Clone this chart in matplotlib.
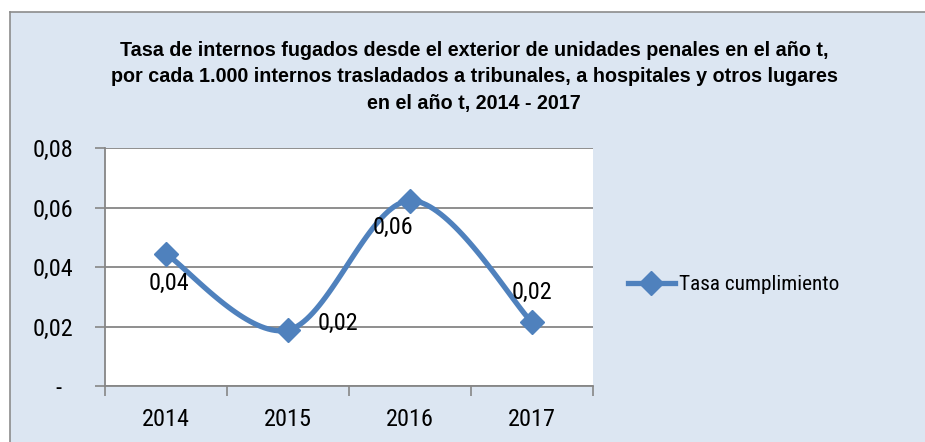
import numpy as np
import matplotlib.pyplot as plt
from matplotlib.ticker import FuncFormatter
from matplotlib.lines import Line2D

# data
years = ['2014', '2015', '2016', '2017']
tasa = [0.0444, 0.0188, 0.0623, 0.0214]
label_txt = ['0,04', '0,02', '0,06', '0,02']
yticks = [0, 0.02, 0.04, 0.06, 0.08]

bg = '#dce6f2'
blue = '#4f81bd'
grid_c = '#868686'

plt.rcParams['font.family'] = ['Roboto Condensed', 'Liberation Sans', 'DejaVu Sans']
FS = 17.5


def smooth(x, y, n=40):
    # catmull-rom like excel's smoothed line
    x = np.asarray(x, float)
    y = np.asarray(y, float)
    px = np.concatenate([[x[0]], x, [x[-1]]])
    py = np.concatenate([[y[0]], y, [y[-1]]])
    xs, ys = [], []
    for i in range(1, len(px) - 2):
        p0 = np.array([px[i], py[i]])
        p3 = np.array([px[i + 1], py[i + 1]])
        c1 = p0 + (p3 - np.array([px[i - 1], py[i - 1]])) / 6
        c2 = p3 - (np.array([px[i + 2], py[i + 2]]) - p0) / 6
        t = np.linspace(0, 1, n)[:, None]
        b = (1 - t) ** 3 * p0 + 3 * (1 - t) ** 2 * t * c1 + 3 * (1 - t) * t ** 2 * c2 + t ** 3 * p3
        xs.append(b[:, 0])
        ys.append(b[:, 1])
    return np.concatenate(xs), np.concatenate(ys)


fig = plt.figure(figsize=(9.25, 4.42), dpi=100)
fig.patch.set_facecolor('white')
# chart area: blue fill, gray border only on top and left (rest is cut off)
left_f, top_f = 10 / 925, 1 - 12 / 442
fig.patches.append(plt.Rectangle((left_f, 0), 1 - left_f, top_f, transform=fig.transFigure,
                                 facecolor=bg, edgecolor='none', zorder=-5))
fig.lines.append(Line2D([left_f, 1], [top_f, top_f], transform=fig.transFigure,
                        color='#8c8c8c', linewidth=1.2))
fig.lines.append(Line2D([left_f, left_f], [0, top_f], transform=fig.transFigure,
                        color='#8c8c8c', linewidth=1.2))

ax = fig.add_axes([105 / 925, 1 - 386 / 442, 488 / 925, 238 / 442])
ax.set_facecolor('white')

x = np.arange(len(years))
sx, sy = smooth(x, tasa)
ax.plot(sx, sy, color=blue, linewidth=3.8, solid_capstyle='round', zorder=3)
ax.plot(x, tasa, linestyle='none', marker='D', markersize=12, color=blue, zorder=4)

# data labels (offsets in pixels, as in the reference)
offs = [(3, -30), (50, 7), (-17, -27), (0, 30)]
for xi, yi, t, o in zip(x, tasa, label_txt, offs):
    ax.annotate(t, (xi, yi), xytext=o, textcoords='offset pixels', ha='center', va='center',
                fontsize=FS, zorder=5)

ax.set_xlim(-0.5, 3.5)
ax.set_ylim(0, 0.08)
ax.set_yticks(yticks)
ax.yaxis.set_major_formatter(FuncFormatter(lambda v, p: '-  ' if v == 0 else f'{v:.2f}'.replace('.', ',')))
ax.set_xticks(x)
ax.set_xticklabels(years)
ax.set_xticks(np.arange(-0.5, 4, 1), minor=True)
ax.tick_params(axis='x', which='major', length=0, pad=16, labelsize=FS)
ax.tick_params(axis='x', which='minor', length=7, width=1.2, color=grid_c, direction='out')
ax.tick_params(axis='y', length=7, width=1.2, color=grid_c, pad=15.5, labelsize=FS)
ax.yaxis.grid(True, color=grid_c, linewidth=1.3)
ax.set_axisbelow(True)
for s in ['top', 'right']:
    ax.spines[s].set_visible(False)
for s in ['left', 'bottom']:
    ax.spines[s].set_color(grid_c)
    ax.spines[s].set_linewidth(1.3)

fig.text(474 / 925, 1 - 77 / 442,
         'Tasa de internos fugados desde el exterior de unidades penales en el año t,\n'
         'por cada 1.000 internos trasladados a tribunales, a hospitales y otros lugares\n'
         'en el año t, 2014 - 2017',
         ha='center', va='center', fontsize=14.2, fontweight='bold', linespacing=1.5,
         family=['Liberation Sans', 'DejaVu Sans'])

h = Line2D([], [], color=blue, linewidth=3.8, marker='D', markersize=12)
fig.legend([h], ['Tasa cumplimiento'], loc='center left', bbox_to_anchor=(628 / 925, 1 - 285 / 442),
           frameon=False, fontsize=15.3, handlelength=2.2, handletextpad=0.2, borderpad=0,
           borderaxespad=0)

fig.savefig('out.png', dpi=100, facecolor=fig.get_facecolor())
